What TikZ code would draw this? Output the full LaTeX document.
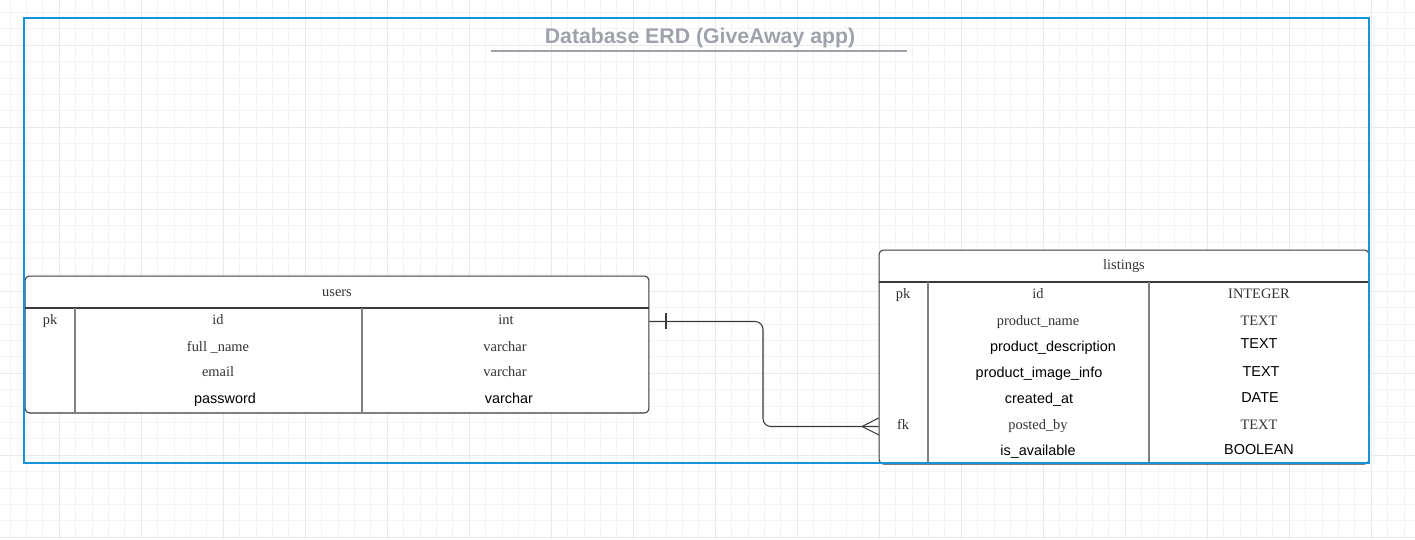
\documentclass[tikz,border=0pt]{standalone}
\usepackage{fontspec}
\setmainfont{Liberation Serif}
\setsansfont{Liberation Sans}
\usetikzlibrary{positioning}
\definecolor{frameblue}{HTML}{1593DB}
\definecolor{titlegray}{HTML}{9EA3AB}
\definecolor{gridminor}{HTML}{F4F4F4}
\definecolor{gridmajor}{HTML}{EAEAEA}
\definecolor{edgegray}{HTML}{3A3A3A}
\definecolor{colgray}{HTML}{808080}

\begin{document}
\begin{tikzpicture}
[x=0.02cm, y=-0.02cm,
  every node/.style={inner sep=0pt, text height=0.7em, text depth=0.2em},
  tablebox/.style={draw=edgegray, fill=white, rounded corners=2.5pt, line width=0.6pt},
  field/.style={font=\fontsize{8.2}{10}\selectfont, text=black!80, yshift=-0.6pt},
  sfield/.style={font=\sffamily\fontsize{8.2}{10}\selectfont, text=black, yshift=-0.6pt},
  headline/.style={draw=edgegray, line width=0.6pt},
  colline/.style={draw=colgray, line width=0.6pt},
  link/.style={draw=edgegray, line width=0.6pt, rounded corners=4.5pt}]

\useasboundingbox (0,0) rectangle (1415,539);

\foreach \i in {0,...,85}
  \draw[gridminor, line width=0.55pt] (10.1+16.4*\i,0) -- (10.1+16.4*\i,539);
\foreach \j in {0,...,32}
  \draw[gridminor, line width=0.55pt] (0,12.5+16.4*\j) -- (1415,12.5+16.4*\j);
\foreach \i in {3,8,...,83}
  \draw[gridmajor, line width=0.55pt] (10.1+16.4*\i,0) -- (10.1+16.4*\i,539);
\foreach \j in {2,7,...,32}
  \draw[gridmajor, line width=0.55pt] (0,12.5+16.4*\j) -- (1415,12.5+16.4*\j);

\node[font=\sffamily\bfseries\fontsize{12.1}{14}\selectfont, text=titlegray] (title) at (700,39.5) {Database ERD (GiveAway app)};
\draw[titlegray, line width=1.1pt] (491,51) -- (907,51);

% users
\node[tablebox, minimum width=12.48cm, minimum height=2.74cm] (users) at (337,344.5) {};
\draw[headline] (users.west |- 0,308) -- (users.east |- 0,308);
\draw[colline] (75,308) -- (users.south -| 75,0);
\draw[colline] (362,308) -- (users.south -| 362,0);
\node[field] (utitle) at (337,291) {users};
\node[field] (upk) at (50,319) {pk};
\node[field] (uid) at (218,319) {id};
\node[field] (uidtype) at (506,319) {int};
\node[field] (uname) at (218,346) {full \_name};
\node[field] (unametype) at (505,346) {varchar};
\node[field] (umail) at (218,371) {email};
\node[field] (umailtype) at (505,371) {varchar};
\node[sfield] (upass) at (225,398) {password};
\node[sfield] (upasstype) at (509,398) {varchar};

% listings
\node[tablebox, minimum width=9.8cm, minimum height=4.28cm] (listings) at (1124,357) {};
\draw[headline] (listings.west |- 0,282) -- (listings.east |- 0,282);
\draw[colline] (928,282) -- (listings.south -| 928,0);
\draw[colline] (1149,282) -- (listings.south -| 1149,0);
\node[field] (ltitle) at (1124,264) {listings};
\node[field] (lpk) at (903,293) {pk};
\node[field] (lid) at (1038,293) {id};
\node[field] (lidtype) at (1259,293) {INTEGER};
\node[field] (lname) at (1038,320) {product\_name};
\node[field] (lnametype) at (1259,320) {TEXT};
\node[sfield] (ldesc) at (1053,346) {product\_description};
\node[sfield] (ldesctype) at (1259,343) {TEXT};
\node[sfield] (limage) at (1039,372) {product\_image\_info};
\node[sfield] (limagetype) at (1261,371) {TEXT};
\node[sfield] (lcreated) at (1039,398) {created\_at};
\node[sfield] (lcreatedtype) at (1260,397) {DATE};
\node[field] (lfk) at (903,424) {fk};
\node[field] (lposted) at (1038,424) {posted\_by};
\node[field] (lpostedtype) at (1259,424) {TEXT};
\node[sfield] (lavail) at (1038,450) {is\_available};
\node[sfield] (lavailtype) at (1259,449) {BOOLEAN};

\coordinate (uone) at (users.east |- 0,321.5);
\coordinate (lmany) at (listings.west |- 0,426.5);
\coordinate (bend) at (763,426.5);
\draw[link] (uone) -| (bend) -- (lmany);
\draw[edgegray, line width=0.6pt] (666,313) -- (666,329);
\draw[edgegray, line width=0.6pt] (lmany) ++(0,-8.5) -- (862,426.5) -- ++(17,8.5);

\draw[frameblue, line width=1.1pt] (24,18) rectangle (1369,463);

\end{tikzpicture}
\end{document}
